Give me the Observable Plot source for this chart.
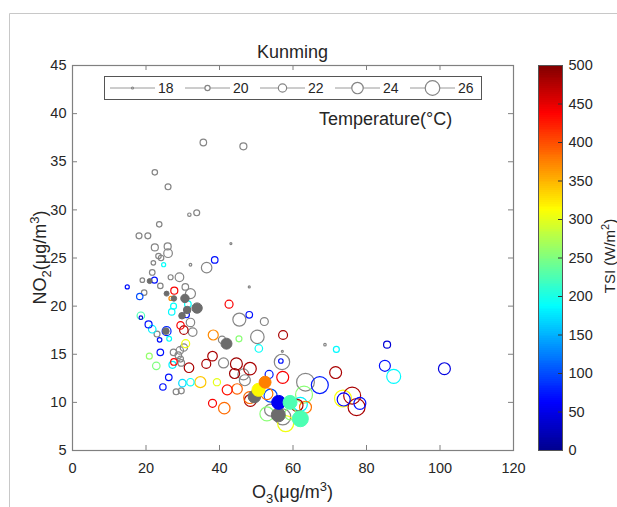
<!DOCTYPE html>
<html><head><meta charset="utf-8">
<script src="https://cdn.jsdelivr.net/npm/d3@7"></script>
<script src="https://cdn.jsdelivr.net/npm/@observablehq/plot@0.6"></script>
<style>
html,body{margin:0;padding:0;background:#fff;}
#wrap{position:relative;width:617px;height:507px;overflow:hidden;font-family:Arial,"Liberation Sans",sans-serif;}
#wrap > *{position:absolute;}
</style></head><body><div id="wrap"></div>
<script>
// ---------- data ----------
const chartTitle = "Kunming";
const sizeTitle = "Temperature(°C)";
const xTicks = [0, 20, 40, 60, 80, 100, 120];
const yTicks = [5, 10, 15, 20, 25, 30, 35, 40, 45];
const tsiTicks = [0, 50, 100, 150, 200, 250, 300, 350, 400, 450, 500];
const legendTemps = [18, 20, 22, 24, 26];

// O3 (µg/m3)
const o3 = [
  35.6,46.5,22.4,26.0,31.8,33.8,23.6,18.1,20.5,22.4,25.9,26.0,23.4,24.1,43.1,32.1,36.5,22.0,21.7,26.7,
  29.1,19.0,23.9,48.1,19.5,30.7,32.1,32.1,45.4,52.2,23.0,32.7,40.7,50.3,57.1,57.0,68.7,30.3,29.2,27.5,
  28.8,29.4,29.6,28.2,29.6,41.1,46.9,46.5,63.4,53.9,57.2,
  21.0,25.6,27.6,30.6,33.9,31.2,29.8,25.4,41.9,49.5,56.0,
  38.7,24.8,22.3,14.9,18.3,27.7,31.4,27.5,27.0,31.0,18.6,18.6,20.7,21.7,25.6,29.4,30.3,23.7,26.3,42.6,
  48.1,38.3,45.3,50.7,57.3,56.7,30.8,27.6,27.2,31.7,23.9,20.9,22.8,26.2,24.6,29.9,32.1,34.8,39.3,38.1,
  36.4,44.6,44.1,48.3,42.1,44.8,38.1,41.3,52.4,53.5,57.2,67.3,50.6,48.4,48.2,53.9,52.9,56.1,59.2,62.0,
  63.4,63.0,61.1,52.9,62.0,58.0,71.6,71.8,85.6,85.0,87.4,101.2,73.6,73.8,76.1,77.3,78.2,26.8,59.3
];
// NO2 (µg/m3)
const no2 = [
  37.0,36.6,33.9,32.4,29.5,29.7,28.5,27.3,27.3,26.1,26.2,25.5,25.2,25.0,26.5,24.3,24.0,24.5,23.5,23.0,
  23.0,22.7,22.1,22.0,21.4,22.0,21.3,18.3,18.6,18.4,17.1,17.3,16.5,16.8,15.3,14.2,16.0,15.7,15.4,15.2,
  14.9,14.5,14.1,11.1,11.2,14.1,12.3,12.9,12.1,9.2,8.5,
  22.6,21.3,20.8,20.8,19.8,19.6,19.0,17.4,16.1,10.6,8.7,
  24.8,24.3,22.7,22.0,21.0,21.6,20.2,20.0,19.4,19.1,19.0,18.8,18.1,17.6,17.4,18.0,17.5,16.5,16.6,20.2,
  19.1,17.0,16.6,15.6,17.0,14.3,16.1,14.2,13.9,13.6,15.2,14.8,13.8,12.6,11.6,12.0,12.1,12.1,12.1,14.8,
  14.0,14.0,13.0,13.5,11.3,11.4,9.9,9.4,12.1,12.9,12.6,11.8,11.3,10.2,10.5,10.7,10.9,10.0,10.0,9.8,
  9.5,10.8,9.7,8.8,8.3,7.8,13.1,15.5,16.0,13.8,12.7,13.5,10.4,10.3,10.7,9.5,9.9,20.8,8.8
];
// Temperature (°C) -> marker size
const temp = [
  20.9,21.2,20.2,20.5,18.9,20.5,20.2,20.5,20.5,21.2,21.2,22.2,20.2,20.2,18.0,18.4,23.4,19.6,20.3,19.9,
  22.2,19.6,20.2,18.0,20.2,20.9,23.1,22.1,25.0,21.8,20.5,22.2,21.4,25.3,18.0,26.5,18.3,21.4,21.4,20.9,
  20.9,20.5,20.9,20.5,20.5,23.1,23.7,23.7,28.0,24.3,26.9,
  19.9,19.9,20.2,22.1,23.3,21.5,20.9,20.9,23.7,24.7,25.6,
  20.9,19.3,20.5,19.3,20.8,21.2,20.9,20.5,20.8,20.5,21.5,19.0,21.2,21.5,22.4,21.4,22.1,19.6,19.8,21.8,
  20.9,23.1,20.5,21.5,22.4,19.6,21.8,20.9,21.2,22.8,20.9,20.5,21.5,20.9,20.8,21.4,21.4,23.7,21.3,22.8,
  22.4,24.3,23.1,24.7,23.1,23.3,21.8,24.0,24.3,21.8,24.3,27.5,25.0,24.3,24.3,25.0,24.3,25.6,25.6,25.6,
  24.3,27.5,24.3,25.6,26.9,26.9,24.3,20.5,21.2,23.7,25.6,24.3,27.5,25.0,27.5,27.5,24.3,19.3,24.3
];
// TSI (W/m2); null = no TSI (grey markers)
const N = null;
const tsi = [
  N,N,N,N,N,N,N,N,N,N,N,N,N,N,N,N,N,N,N,N,
  N,N,N,N,N,N,N,N,N,N,N,N,N,N,N,N,N,N,N,N,
  N,N,N,N,N,N,N,N,N,N,N,
  N,N,N,N,N,N,N,N,N,N,N,
  70,190,70,70,100,440,190,190,185,70,225,40,70,180,80,440,480,70,190,440,
  70,370,255,190,480,70,305,440,180,480,70,260,250,70,70,170,190,340,300,480,
  480,485,485,480,430,390,440,385,375,75,440,75,315,480,385,100,380,55,225,180,
  380,255,480,255,225,305,480,185,40,70,185,45,310,60,480,480,70,370,255
];
// 1 = filled marker
const filled = [
  0,0,0,0,0,0,0,0,0,0,0,0,0,0,0,0,0,0,0,0,
  0,0,0,0,0,0,0,0,0,0,0,0,0,0,0,0,0,0,0,0,
  0,0,0,0,0,0,0,0,0,0,0,
  1,1,1,1,1,1,1,1,1,1,1,
  0,0,0,0,0,0,0,0,0,0,0,0,0,0,0,0,0,0,0,0,
  0,0,0,0,0,0,0,0,0,0,0,0,0,0,0,0,0,0,0,0,
  0,0,0,0,0,0,0,0,1,0,0,0,1,0,0,0,0,1,1,0,
  0,0,0,0,1,0,0,0,0,0,0,0,0,0,0,0,0,0,0
];

// MATLAB "jet" colormap stops over the TSI range
const jetStops = [0, 62.5, 187.5, 312.5, 437.5, 500];
const jetColors = ["#00008f", "#0000ff", "#00ffff", "#ffff00", "#ff0000", "#800000"];

// ---------- build ----------
const pts = o3.map((x, i) => ({x, y: no2[i], t: temp[i], tsi: tsi[i], f: filled[i]}));
const greyOpen = pts.filter(d => d.tsi == null && !d.f);
const greyFill = pts.filter(d => d.tsi == null && d.f);
const colOpen = pts.filter(d => d.tsi != null && !d.f);
const colFill = pts.filter(d => d.tsi != null && d.f);

const FONT = 'Arial, "Liberation Sans", sans-serif';
const colorScale = {type: "linear", domain: jetStops, range: jetColors, interpolate: "rgb"};
const rScale = {type: "linear", domain: [18, 26], range: [1, 7.3]};
const W = 617, H = 507, ML = 72, MR = 104, MT = 65, MB = 57;
const innerW = W - ML - MR, innerH = H - MT - MB;
const frameCol = "#808080", textCol = "#262626";

const wrap = document.getElementById("wrap");

// outer figure border (light grey)
const bg = d3.create("svg").attr("width", W).attr("height", H).style("left", "0px").style("top", "0px");
bg.append("line").attr("x1", 9.5).attr("x2", W).attr("y1", 13.5).attr("y2", 13.5).attr("stroke", "#c8c8c8");
bg.append("line").attr("x1", 9.5).attr("x2", 9.5).attr("y1", 13.5).attr("y2", H).attr("stroke", "#c8c8c8");
wrap.appendChild(bg.node());

const main = Plot.plot({
  width: W, height: H,
  marginLeft: ML, marginRight: MR, marginTop: MT, marginBottom: MB,
  x: {domain: [0, 120]},
  y: {domain: [5, 45]},
  r: rScale,
  color: colorScale,
  style: {fontFamily: FONT, fontSize: "14.5px", color: textCol, background: "transparent"},
  marks: [
    Plot.dot(greyOpen, {x: "x", y: "y", r: "t", stroke: "#858585", strokeWidth: 1.2}),
    Plot.dot(colOpen, {x: "x", y: "y", r: "t", stroke: "tsi", strokeWidth: 1.2}),
    Plot.dot(greyFill, {x: "x", y: "y", r: "t", fill: "#6c6c6c", stroke: "#6c6c6c", strokeWidth: 1}),
    Plot.dot(colFill, {x: "x", y: "y", r: "t", fill: "tsi", stroke: "tsi", strokeWidth: 1}),
    Plot.ruleX(xTicks, {x: d => d, insetTop: innerH - 5, stroke: frameCol}),
    Plot.ruleX(xTicks, {x: d => d, insetBottom: innerH - 5, stroke: frameCol}),
    Plot.ruleY(yTicks, {y: d => d, insetRight: innerW - 5, stroke: frameCol}),
    Plot.ruleY(yTicks, {y: d => d, insetLeft: innerW - 5, stroke: frameCol}),
    Plot.frame({stroke: frameCol, strokeWidth: 1.2}),
    Plot.axisX({ticks: xTicks, tickSize: 0, tickPadding: 12, label: null, fontSize: 14.5, fill: textCol}),
    Plot.axisY({ticks: yTicks, tickSize: 0, tickPadding: 6, label: null, fontSize: 14.5, fill: textCol})
  ]
});
main.style.left = "0px"; main.style.top = "0px";
wrap.appendChild(main);

// colour bar
const cbStep = 2.5;
const cb = Plot.plot({
  width: 97, height: H,
  marginLeft: 18, marginRight: 55, marginTop: MT, marginBottom: MB,
  x: {domain: [0, 1], axis: null},
  y: {domain: [0, 500], axis: null},
  color: colorScale,
  style: {fontFamily: FONT, fontSize: "14.5px", color: textCol, background: "transparent"},
  marks: [
    Plot.rect(d3.range(0, 500, cbStep), {x1: () => 0, x2: () => 1, y1: d => d, y2: d => d + cbStep, fill: d => d + cbStep / 2, shapeRendering: "crispEdges"}),
    Plot.ruleY(tsiTicks, {y: d => d, insetLeft: 20, stroke: "#333"}),
    Plot.frame({stroke: "#555"}),
    Plot.axisY({ticks: tsiTicks, anchor: "right", tickSize: 0, tickPadding: 6, label: null, fontSize: 14.5, fill: textCol})
  ]
});
cb.style.left = "520px"; cb.style.top = "0px";
wrap.appendChild(cb);

// size legend
const rs = main.scale("r");
const lg = d3.create("svg").attr("width", 378).attr("height", 24).style("left", "104px").style("top", "76px");
lg.append("rect").attr("x", 0.5).attr("y", 0.5).attr("width", 377).attr("height", 23)
  .attr("fill", "#fff").attr("stroke", "#555");
legendTemps.forEach((t, i) => {
  const x0 = 6 + 75 * i, cy = 12;
  lg.append("line").attr("x1", x0).attr("x2", x0 + 45).attr("y1", cy).attr("y2", cy).attr("stroke", "#9a9a9a");
  lg.append("circle").attr("cx", x0 + 22.5).attr("cy", cy).attr("r", rs.apply(t))
    .attr("fill", "#fff").attr("stroke", "#858585").attr("stroke-width", 1.2);
  lg.append("text").attr("x", x0 + 48).attr("y", cy).attr("dy", "0.36em")
    .attr("font-family", FONT).attr("font-size", 14).attr("fill", textCol).text(t);
});
wrap.appendChild(lg.node());

// text overlay
const ov = d3.create("svg").attr("width", W).attr("height", H).style("left", "0px").style("top", "0px")
  .style("pointer-events", "none").attr("font-family", FONT).attr("fill", textCol);
ov.append("text").attr("x", ML + innerW / 2).attr("y", 58).attr("text-anchor", "middle").attr("font-size", 18).text(chartTitle);
ov.append("text").attr("x", 319).attr("y", 125).attr("font-size", 18).text(sizeTitle);
// x label O3(µg/m3)
const xl = ov.append("text").attr("x", ML + innerW / 2).attr("y", 498).attr("text-anchor", "middle").attr("font-size", 18);
xl.append("tspan").text("O");
xl.append("tspan").attr("dy", 5).attr("font-size", 13).text("3");
xl.append("tspan").attr("dy", -5).text("(μg/m");
xl.append("tspan").attr("dy", -7).attr("font-size", 13).text("3");
xl.append("tspan").attr("dy", 7).text(")");
// y label NO2(µg/m3)
const yl = ov.append("text").attr("transform", `translate(46,${MT + innerH / 2}) rotate(-90)`).attr("text-anchor", "middle").attr("font-size", 18);
yl.append("tspan").text("NO");
yl.append("tspan").attr("dy", 5).attr("font-size", 13).text("2");
yl.append("tspan").attr("dy", -5).text("(μg/m");
yl.append("tspan").attr("dy", -7).attr("font-size", 13).text("3");
yl.append("tspan").attr("dy", 7).text(")");
// colour bar label TSI (W/m2)
const cl = ov.append("text").attr("transform", `translate(615,256) rotate(-90)`).attr("text-anchor", "middle").attr("font-size", 15);
cl.append("tspan").text("TSI (W/m");
cl.append("tspan").attr("dy", -6).attr("font-size", 11).text("2");
cl.append("tspan").attr("dy", 6).text(")");
wrap.appendChild(ov.node());
</script></body></html>
